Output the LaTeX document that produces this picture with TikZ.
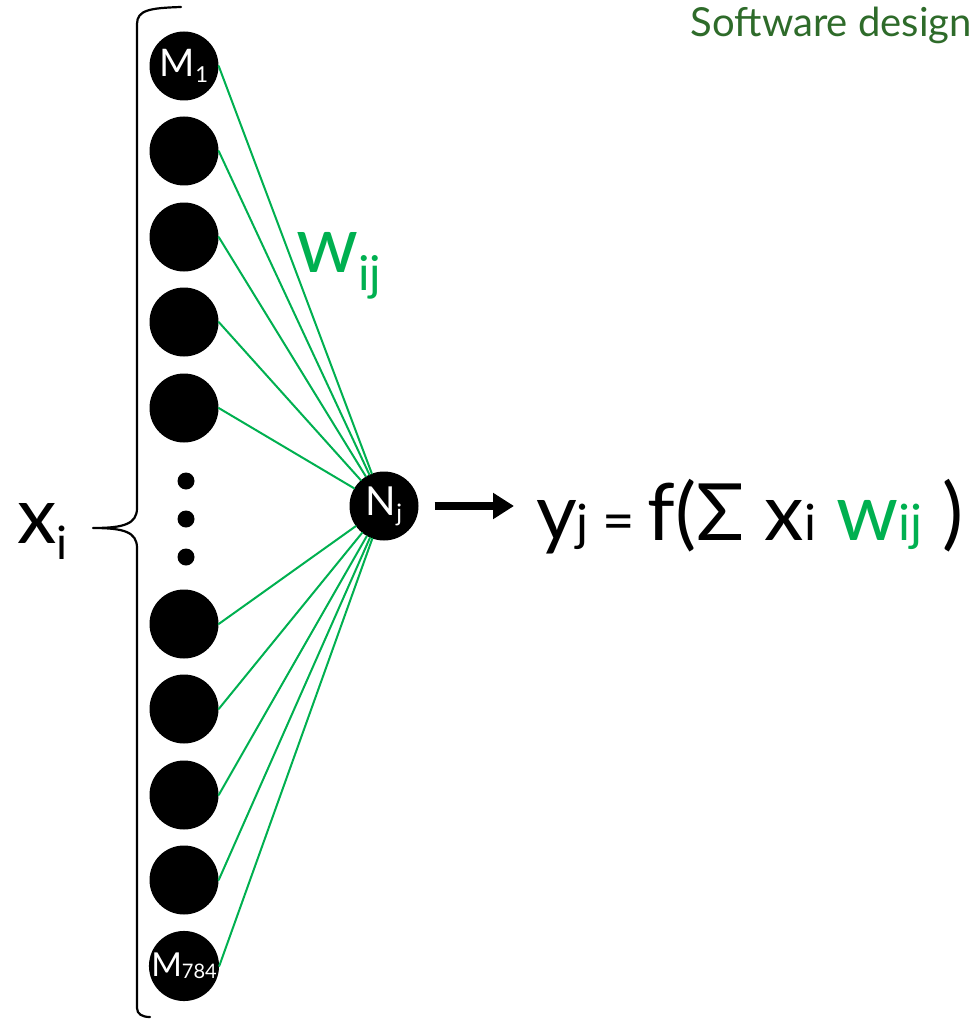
\documentclass[tikz,border=0pt]{standalone}
\usepackage{fontspec}
\setmainfont{Lato}
\usetikzlibrary{arrows.meta}
\definecolor{wgreen}{RGB}{0,176,80}
\definecolor{titlegreen}{RGB}{46,107,42}
\newcommand{\fsz}[1]{\fontsize{#1}{#1}\selectfont}
\newcommand{\lowtext}[3]{\raisebox{-#2}{\fsz{#1}#3}}

\begin{document}
\begin{tikzpicture}[x=1pt,y=-1pt,line cap=round,line join=round,
  neuron/.style={circle,fill=black,minimum size=69pt,inner sep=0pt,text=white},
  wline/.style={wgreen,line width=2pt}]
  \useasboundingbox (0,0) rectangle (972,1019);
  \node[titlegreen,font=\fsz{40},anchor=base east,inner sep=0pt] (title) at (972,37) {Software design};
  % input layer
  \node[neuron,font=\fsz{38}] (m1) at (184,66) {M\lowtext{22}{6pt}{1}};
  \foreach \y [count=\i from 2] in {151,237,322,408,624,709,795,880} {
    \node[neuron] (m\i) at (184,\y) {};
  }
  \node[neuron,font=\fsz{33}] (m10) at (184,966) {M\lowtext{20}{2pt}{784}};
  \foreach \y [count=\i] in {481,519,557} {
    \node[circle,fill=black,minimum size=17pt,inner sep=0pt] (dot\i) at (186,\y) {};
  }
  % brace
  \draw[line width=2.2pt] (181,7) .. controls (150,8) and (137,10) .. (137,24)
    -- (137,508) .. controls (137,524) and (124,528) .. (93,528)
    .. controls (124,528) and (137,532) .. (137,548)
    -- (137,1008) .. controls (137,1014) and (142,1017) .. (150,1017);
  \node[anchor=base west,inner sep=0pt,font=\fsz{79}] (xi) at (17,543) {x\lowtext{46}{16pt}{i}};
  % output neuron
  \node[neuron,font=\fsz{40}] (nj) at (384,506) {N\lowtext{24}{6pt}{j}};
  \foreach \i in {1,...,10} {
    \draw[wline] (m\i.east) -- (nj);
  }
  \node[anchor=base west,inner sep=0pt,text=wgreen,font=\fsz{79}] (wij) at (296,272) {w\lowtext{48}{18pt}{ij}};
  \node[anchor=base west,inner sep=0pt,font=\fsz{79}] (formula) at (536,540)
    {y\lowtext{50}{0pt}{j}\,{\fsz{56}=}\,f(Σ x\lowtext{50}{0pt}{i} {\color{wgreen}w\lowtext{50}{0pt}{ij}} )};
  \draw[line width=8pt,line cap=butt,-{Triangle[length=21pt,width=25pt]},shorten <=16pt,shorten >=22pt]
    (nj.east) -- (nj.east -| formula.west);
\end{tikzpicture}
\end{document}
